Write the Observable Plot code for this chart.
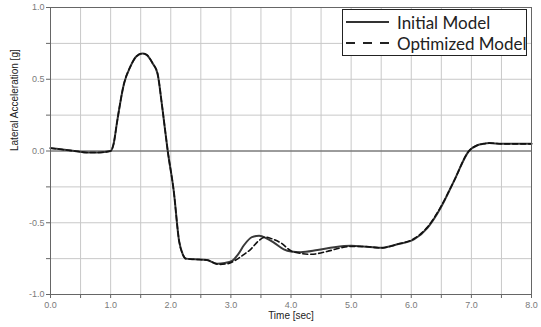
<!DOCTYPE html>
<html>
<head>
<meta charset="utf-8">
<script src="https://cdn.jsdelivr.net/npm/d3@7"></script>
<script src="https://cdn.jsdelivr.net/npm/@observablehq/plot@0.6"></script>
<style>
  html, body { margin: 0; padding: 0; background: #fff; }
  #wrap { position: relative; width: 541px; height: 327px; }
  #legend { position: absolute; left: 342px; top: 9px; width: 185px; height: 47px;
    border: 1px solid #222; background: #fff; font-family: Lato, "Liberation Sans", sans-serif;
    font-size: 17px; color: #222; box-sizing: border-box; overflow: visible; }
  #legend .row { position: absolute; left: 0; height: 22px; display: flex; align-items: center; white-space: nowrap; width: 200px; }
  #legend svg { display: block; margin-left: 3px; margin-right: 8px; flex: none; }
</style>
</head>
<body>
<div id="wrap">
  <div id="chart"></div>
  <div id="legend">
    <div class="row" style="top:1px">
      <svg width="43" height="6"><line x1="0" y1="3" x2="43" y2="3" stroke="#333" stroke-width="2"/></svg>
      <span>Initial Model</span>
    </div>
    <div class="row" style="top:22px">
      <svg width="43" height="6"><line x1="0" y1="3" x2="43" y2="3" stroke="#222" stroke-width="2" stroke-dasharray="9,8"/></svg>
      <span>Optimized Model</span>
    </div>
  </div>
</div>
<script>
// Initial Model (solid)
const initialTime = [0, 0.2, 0.4, 0.6, 0.8, 1.0, 1.05, 1.11, 1.22, 1.33, 1.43, 1.53, 1.6, 1.7, 1.78, 1.86, 1.95, 2.05, 2.14, 2.2, 2.25, 2.4, 2.6, 2.77, 2.9, 3.02, 3.12, 3.22, 3.35, 3.47, 3.6, 3.72, 3.88, 4.0, 4.16, 4.44, 4.72, 5.0, 5.2, 5.49, 5.77, 6.05, 6.27, 6.49, 6.71, 6.96, 7.1, 7.2, 7.3, 7.5, 8.0];
const initialAccel = [0.02, 0.01, 0.0, -0.01, -0.01, 0.0, 0.05, 0.21, 0.465, 0.59, 0.66, 0.68, 0.67, 0.61, 0.54, 0.30, 0.0, -0.28, -0.63, -0.72, -0.75, -0.755, -0.76, -0.785, -0.78, -0.765, -0.72, -0.655, -0.6, -0.59, -0.61, -0.64, -0.685, -0.70, -0.705, -0.69, -0.67, -0.66, -0.665, -0.675, -0.65, -0.615, -0.535, -0.395, -0.21, 0.0, 0.04, 0.05, 0.055, 0.05, 0.05];

// Optimized Model (dashed)
const optimizedTime = [0, 0.2, 0.4, 0.6, 0.8, 1.0, 1.05, 1.11, 1.22, 1.33, 1.43, 1.53, 1.6, 1.7, 1.78, 1.86, 1.95, 2.05, 2.14, 2.2, 2.25, 2.4, 2.6, 2.8, 2.95, 3.1, 3.22, 3.33, 3.45, 3.58, 3.7, 3.83, 4.02, 4.33, 4.6, 4.83, 5.0, 5.2, 5.49, 5.77, 6.05, 6.27, 6.49, 6.71, 6.96, 7.1, 7.2, 7.3, 7.5, 8.0];
const optimizedAccel = [0.02, 0.01, 0.0, -0.01, -0.01, 0.0, 0.05, 0.21, 0.465, 0.59, 0.66, 0.68, 0.67, 0.61, 0.54, 0.30, 0.0, -0.28, -0.63, -0.72, -0.75, -0.755, -0.76, -0.79, -0.785, -0.755, -0.72, -0.685, -0.63, -0.60, -0.615, -0.64, -0.70, -0.72, -0.70, -0.675, -0.665, -0.665, -0.675, -0.65, -0.61, -0.53, -0.39, -0.21, 0.0, 0.04, 0.05, 0.055, 0.05, 0.05];

// Ticks
const xTicks = [0, 0.5, 1, 1.5, 2, 2.5, 3, 3.5, 4, 4.5, 5, 5.5, 6, 6.5, 7, 7.5, 8];
const xTickLabels = ["0.0", "", "1.0", "", "2.0", "", "3.0", "", "4.0", "", "5.0", "", "6.0", "", "7.0", "", "8.0"];
const yTicks = [-1, -0.75, -0.5, -0.25, 0, 0.25, 0.5, 0.75, 1];
const yTickLabels = ["-1.0", "", "-0.5", "", "0.0", "", "0.5", "", "1.0"];

const xTitle = "Time [sec]";
const yTitle = "Lateral Acceleration [g]";

const initial = initialTime.map((t, i) => ({t, g: initialAccel[i]}));
const optimized = optimizedTime.map((t, i) => ({t, g: optimizedAccel[i]}));

const chart = Plot.plot({
  width: 541,
  height: 327,
  marginLeft: 50,
  marginRight: 10,
  marginTop: 7,
  marginBottom: 33,
  style: {fontFamily: "'Liberation Sans', Arial, sans-serif", background: "#fff"},
  x: {domain: [0, 8]},
  y: {domain: [-1, 1]},
  marks: [
    Plot.gridX(xTicks, {stroke: "#c8c8c8", strokeOpacity: 1}),
    Plot.gridY(yTicks, {stroke: "#c8c8c8", strokeOpacity: 1}),
    Plot.ruleY([0], {stroke: "#555", strokeWidth: 1}),
    Plot.line(initial, {x: "t", y: "g", stroke: "#3a3a3a", strokeWidth: 2, curve: "monotone-x"}),
    Plot.line(optimized, {x: "t", y: "g", stroke: "#111", strokeWidth: 1.6, strokeDasharray: "5,3", curve: "monotone-x"}),
    Plot.frame({stroke: "#666"}),
    Plot.axisX(xTicks, {tickSize: 4, tickPadding: 3, fontSize: 9, stroke: "#666", fill: "#7a7a7a",
      tickFormat: (d) => xTickLabels[xTicks.indexOf(d)], label: null}),
    Plot.axisY(yTicks, {tickSize: 4, tickPadding: 2, fontSize: 9, stroke: "#666", fill: "#7a7a7a",
      tickFormat: (d) => yTickLabels[yTicks.indexOf(d)], label: null}),
    Plot.text([xTitle], {frameAnchor: "bottom", dy: 24, fontSize: 10, fill: "#222", text: (d) => d}),
    Plot.text([yTitle], {frameAnchor: "left", dx: -36, rotate: -90, fontSize: 10, fill: "#222", text: (d) => d})
  ]
});
document.getElementById("chart").appendChild(chart);
</script>
</body>
</html>
